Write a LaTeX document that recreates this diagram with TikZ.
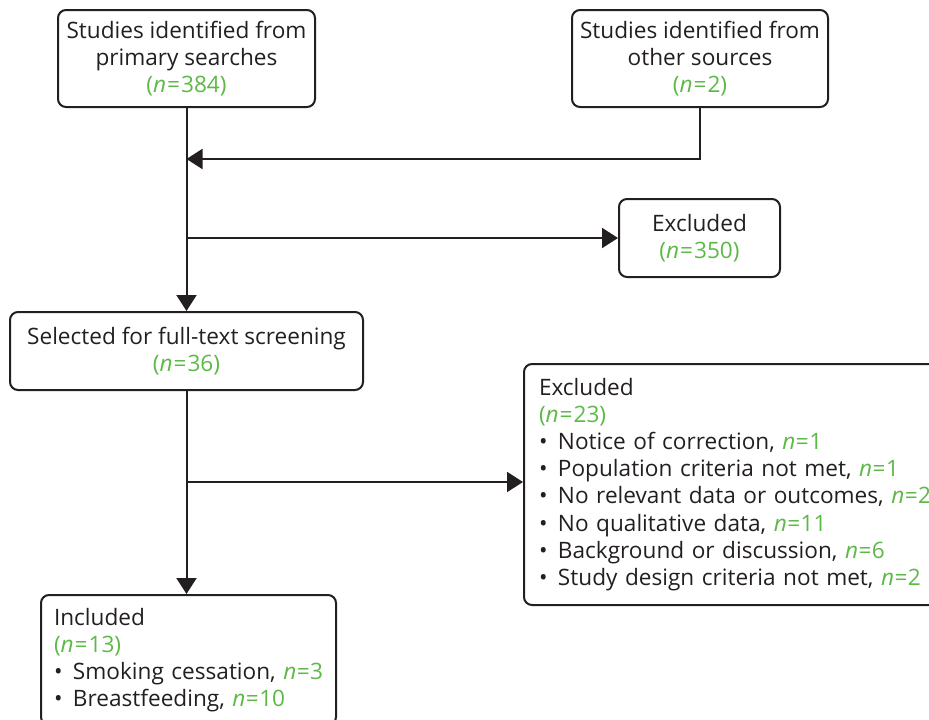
\documentclass[tikz,border=0pt]{standalone}
\usepackage{fontspec}
\setmainfont{Open Sans}
\usetikzlibrary{arrows.meta}
\definecolor{ink}{RGB}{35,31,32}
\definecolor{grn}{RGB}{92,185,71}
\newcommand{\nn}[1]{{\color{grn}\textit{n}\kern0.5pt=\kern0.5pt#1}}
\newcommand{\nb}[1]{{\color{grn}(\textit{n}\kern1pt=\kern1pt#1)}}
\newcommand{\bitem}[1]{\mbox{\makebox[19pt][l]{•}#1}}
\begin{document}
\begin{tikzpicture}[x=1pt,y=-1pt,
 box/.style={draw=ink, line width=2pt, rounded corners=8pt, align=center, text=ink, inner sep=0pt, font=\fontsize{22.6}{27.2}\selectfont},
 lbox/.style={box, align=left},
 conn/.style={draw=ink, line width=2pt},
 arr/.style={conn, -{Triangle[width=20pt,length=16pt]}}]
\useasboundingbox (0,0) rectangle (929,720);
\clip (0,0) rectangle (929,720);
\node[box, minimum width=257pt, minimum height=97pt] (prim) at (186.5,58.5) {Studies identified from\\primary searches\\\nb{384}};
\node[box, minimum width=256pt, minimum height=97pt] (other) at (700,58.5) {Studies identified from\\other sources\\\nb{2}};
\node[box, minimum width=161pt, minimum height=78pt] (exa) at (699.5,238) {Excluded\\\nb{350}};
\node[box, minimum width=353pt, minimum height=78pt] (sel) at (186.5,351) {Selected for full-text screening\\\nb{36}};
\node[lbox, anchor=west, minimum height=241pt, text width=420pt, inner xsep=15pt] (exb) at (523,484.5) {Excluded\\\nb{23}\\
\bitem{Notice of correction, \nn{1}}\\
\bitem{Population criteria not met, \nn{1}}\\
\bitem{No relevant data or outcomes, \nn{2}}\\
\bitem{No qualitative data, \nn{11}}\\
\bitem{Background or discussion, \nn{6}}\\
\bitem{Study design criteria not met, \nn{2}}};
\node[lbox, anchor=west, minimum height=130pt, text width=269pt, inner xsep=13pt] (inc) at (40,660) {Included\\\nb{13}\\
\bitem{Smoking cessation, \nn{3}}\\
\bitem{Breastfeeding, \nn{10}}};
\coordinate (j1) at (186.5,159);
\coordinate (b1) at (186.5,238);
\coordinate (b2) at (186.5,482);
\draw[arr] (prim.south) -- (sel.north);
\draw[arr] (other.south) |- (j1);
\draw[arr] (b1) -- (exa.west);
\draw[arr] (sel.south) -- (sel.south |- inc.north);
\draw[arr] (b2) -- (exb.west |- b2);
\end{tikzpicture}
\end{document}
